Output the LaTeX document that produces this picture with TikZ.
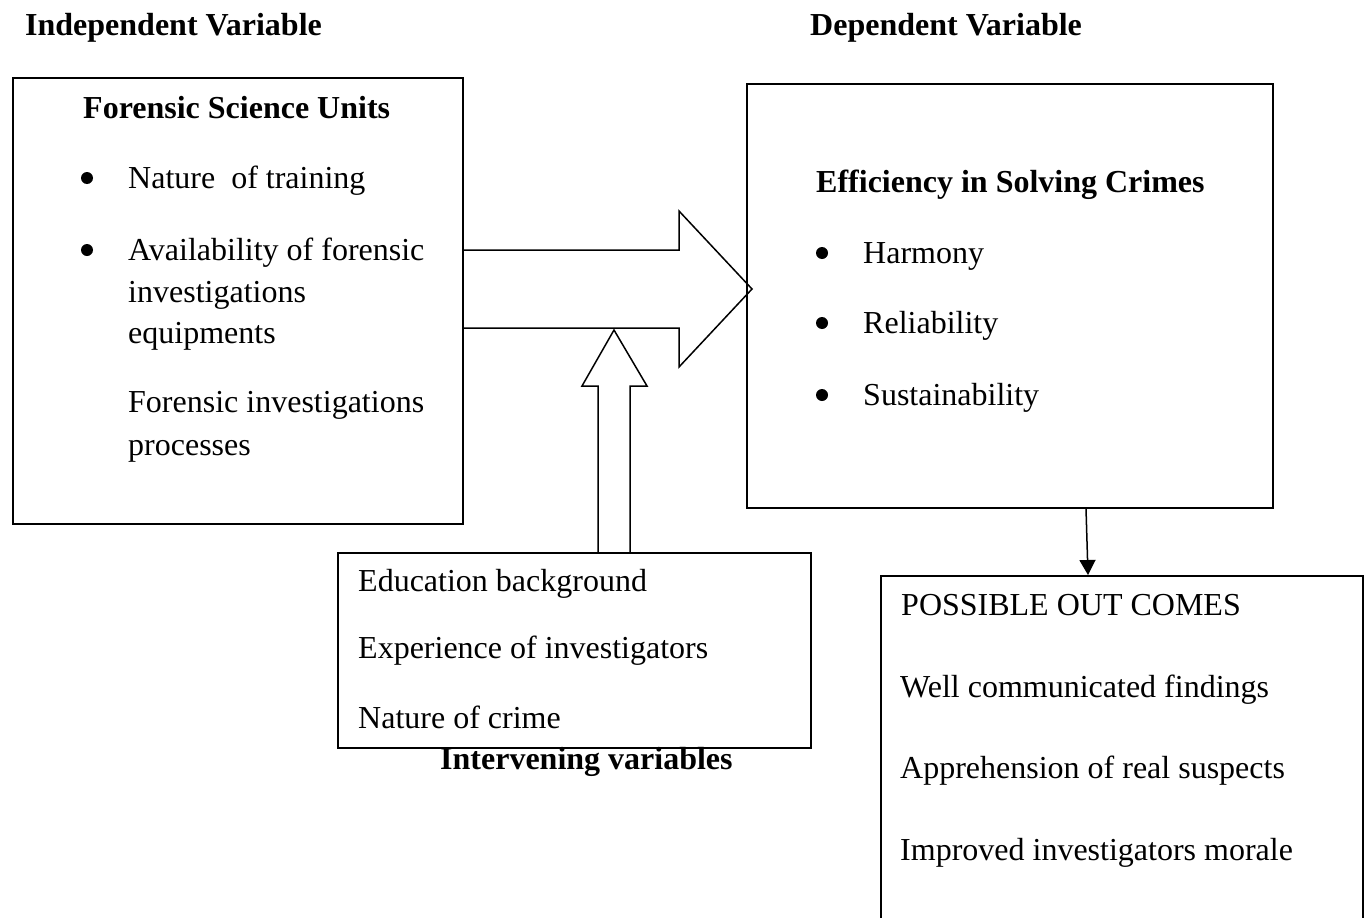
\documentclass[tikz,border=0pt]{standalone}
\usepackage{fontspec}
\setmainfont{Liberation Serif}
\usetikzlibrary{arrows.meta,calc}
\tikzset{
  box/.style={draw, line width=1.5pt, rectangle, anchor=north west, inner sep=0pt},
  txt/.style={anchor=base west, inner sep=0pt, font=\fontsize{32}{38}\selectfont},
  btxt/.style={txt, font=\fontsize{32}{38}\selectfont\bfseries},
  fatarrow/.style={draw, line width=1.5pt, line join=miter},
  dot/.style={fill=black},
}
\begin{document}
\begin{tikzpicture}[x=1pt,y=-1pt]
\clip (0,0) rectangle (1366,918);
\useasboundingbox (0,0) rectangle (1366,918);
% headers
\node[btxt] (hind) at (25,35) {Independent Variable};
\node[btxt] (hdep) at (810,35) {Dependent Variable};
% boxes
\node[box, minimum width=450pt, minimum height=446pt] (lbox) at (12,77) {};
\node[box, minimum width=526pt, minimum height=424pt] (rbox) at (746,83) {};
\node[box, minimum width=473pt, minimum height=195pt] (ibox) at (337,552) {};
\node[box, minimum width=482pt, minimum height=380pt] (obox) at (880,575) {};
% left box text
\node[btxt] (lh) at (83,118) {Forensic Science Units};
\fill[dot] (87,178) circle (6);
\node[txt] (l1) at (128,188) {Nature\ \ of training};
\fill[dot] (87,250) circle (6);
\node[txt] (l2) at (128,260) {Availability of forensic};
\node[txt] (l3) at (128,302) {investigations};
\node[txt] (l4) at (128,343) {equipments};
\node[txt] (l5) at (128,412) {Forensic investigations};
\node[txt] (l6) at (128,455) {processes};
% right box text
\node[btxt] (rh) at (816,192) {Efficiency in Solving Crimes};
\fill[dot] (822,253) circle (6);
\node[txt] (r1) at (863,263) {Harmony};
\fill[dot] (822,323) circle (6);
\node[txt] (r2) at (863,333) {Reliability};
\fill[dot] (822,395) circle (6);
\node[txt] (r3) at (863,405) {Sustainability};
% intervening box text
\node[txt] (i1) at (358,591) {Education background};
\node[txt] (i2) at (358,658) {Experience of investigators};
\node[txt] (i3) at (358,728) {Nature of crime};
\node[btxt] (ih) at (440,769) {Intervening variables};
% outcomes text
\node[txt] (o0) at (901,615) {POSSIBLE OUT COMES};
\node[txt] (o1) at (900,697) {Well communicated findings};
\node[txt] (o2) at (900,778) {Apprehension of real suspects};
\node[txt] (o3) at (900,860) {Improved investigators morale};
% big block arrow from left box to right box
\draw[fatarrow] (lbox.east |- 0,250) -- (679,250) -- (679,211) -- ($(rbox.west |- 0,289)+(6,0)$) -- (679,367) -- (679,328) -- (lbox.east |- 0,328);
% up block arrow from intervening box
\draw[fatarrow] (ibox.north -| 598,0) -- (598,386) -- (582,386) -- (614,330) -- (647,386) -- (630,386) -- (ibox.north -| 630,0);
% down arrow to outcomes
\coordinate (dstart) at ($(rbox.south west)+(340,0)$);
\coordinate (dend) at ($(obox.north west)+(208,0)$);
\draw[line width=1.5pt, -{Triangle[width=16pt,length=15pt]}] (dstart) -- (dend);
\end{tikzpicture}
\end{document}
